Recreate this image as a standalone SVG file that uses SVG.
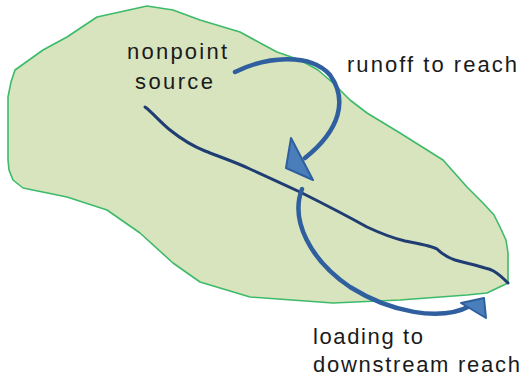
<svg xmlns="http://www.w3.org/2000/svg" width="529" height="381" viewBox="0 0 529 381">
<style>
.lbl{font-family:"Liberation Sans",Arial,sans-serif;font-size:22px;fill:#1a1a1a}
.arr{fill:none;stroke:#2f5f9e;stroke-width:4.5;stroke-linecap:round}
.head{fill:#4a7ebb;stroke:#2f5f9e;stroke-width:2;stroke-linejoin:round}
</style>
<rect width="529" height="381" fill="#ffffff"/>
<g id="watershed">
<path d="M147,6 L173,10 L200,20 L240,32 L262,44 L277,52 L300,60 L318,70 L333,83 L350,100 L367,113 L400,133 L443,160 L467,187 L483,203 L494,215 L500,227 L506,240 L508,253 L508,283 L487,293 L467,295 L400,300 L333,303 L250,297 L200,282 L173,263 L140,233 L107,210 L67,197 L23,188 L13,180 L9,170 L8,160 L8,97 L11,82 L15,70 L43,50 L67,37 L97,17 Z" fill="#d7e4bd" stroke="#3dba6a" stroke-width="1.6" stroke-linejoin="round"/>
</g>
<g id="river">
<path d="M145,107 C152,112 160,122 170,130 C180,138 190,145 205,151 C220,157 235,162 250,169 C270,178 285,185 300,192 C320,202 340,212 367,227 C382,234 392,238 405,241 C420,244 432,246 437,249 C442,254 446,257 455,260 C470,264 478,266 485,268 C490,269 495,270 508,283" fill="none" stroke="#1f3d73" stroke-width="3" stroke-linecap="round" stroke-linejoin="round"/>
</g>
<g id="labels">
<text class="lbl" x="127" y="59" textLength="100" lengthAdjust="spacing">nonpoint</text>
<text class="lbl" x="135" y="89" textLength="78" lengthAdjust="spacing">source</text>
<text class="lbl" x="347" y="72" textLength="170" lengthAdjust="spacing">runoff to reach</text>
<text class="lbl" x="313" y="344" textLength="110" lengthAdjust="spacing">loading to</text>
<text class="lbl" x="313" y="372" textLength="207" lengthAdjust="spacing">downstream reach</text>
</g>
<g id="connectors">
<path class="arr" d="M235,72 C265,57 310,52 330,75 C348,100 340,130 305,158"/>
<polygon class="head" points="291,138 286,168 313,180"/>
<path class="arr" d="M302,189 C290,220 310,260 350,287 C390,312 440,322 470,306"/>
<polygon class="head" points="461,303 484,298 486,318"/>
</g>
</svg>
